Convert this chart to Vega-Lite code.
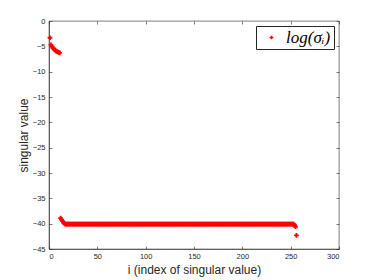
{
  "$schema": "https://vega.github.io/schema/vega-lite/v6.json",
  "width": 290,
  "height": 228,
  "autosize": {"type": "none"},
  "padding": {"left": 49, "top": 21, "right": 35, "bottom": 31},
  "background": "white",
  "config": {
    "view": {"stroke": "#262626", "strokeWidth": 0.6},
    "axis": {
      "grid": false,
      "domainColor": "#262626",
      "domainWidth": 0.6,
      "tickColor": "#262626",
      "tickWidth": 0.6,
      "tickSize": -3,
      "labelColor": "#262626",
      "labelFont": "Liberation Sans",
      "labelFontSize": 7.5,
      "titleFont": "Liberation Sans",
      "titleFontWeight": "normal",
      "titleFontSize": 12,
      "titleColor": "#262626"
    }
  },
  "data": {"values": [
    {"i":1,"v":-3.3},{"i":2,"v":-4.7},{"i":3,"v":-5.0},{"i":4,"v":-5.3},{"i":5,"v":-5.5},{"i":6,"v":-5.7},{"i":7,"v":-5.9},{"i":8,"v":-6.0},{"i":9,"v":-6.1},{"i":10,"v":-6.2},{"i":11,"v":-6.3},
    {"i":12,"v":-38.9},{"i":13,"v":-39.2},{"i":14,"v":-39.5},{"i":15,"v":-39.8},{"i":16,"v":-40.0},
    {"i":17,"v":-40.1},{"i":18,"v":-40.1},{"i":19,"v":-40.1},{"i":20,"v":-40.1},{"i":21,"v":-40.1},{"i":22,"v":-40.1},{"i":23,"v":-40.1},{"i":24,"v":-40.1},{"i":25,"v":-40.1},{"i":26,"v":-40.1},{"i":27,"v":-40.1},{"i":28,"v":-40.1},{"i":29,"v":-40.1},{"i":30,"v":-40.1},
    {"i":31,"v":-40.1},{"i":32,"v":-40.1},{"i":33,"v":-40.1},{"i":34,"v":-40.1},{"i":35,"v":-40.1},{"i":36,"v":-40.1},{"i":37,"v":-40.1},{"i":38,"v":-40.1},{"i":39,"v":-40.1},{"i":40,"v":-40.1},
    {"i":41,"v":-40.1},{"i":42,"v":-40.1},{"i":43,"v":-40.1},{"i":44,"v":-40.1},{"i":45,"v":-40.1},{"i":46,"v":-40.1},{"i":47,"v":-40.1},{"i":48,"v":-40.1},{"i":49,"v":-40.1},{"i":50,"v":-40.1},
    {"i":51,"v":-40.1},{"i":52,"v":-40.1},{"i":53,"v":-40.1},{"i":54,"v":-40.1},{"i":55,"v":-40.1},{"i":56,"v":-40.1},{"i":57,"v":-40.1},{"i":58,"v":-40.1},{"i":59,"v":-40.1},{"i":60,"v":-40.1},
    {"i":61,"v":-40.1},{"i":62,"v":-40.1},{"i":63,"v":-40.1},{"i":64,"v":-40.1},{"i":65,"v":-40.1},{"i":66,"v":-40.1},{"i":67,"v":-40.1},{"i":68,"v":-40.1},{"i":69,"v":-40.1},{"i":70,"v":-40.1},
    {"i":71,"v":-40.1},{"i":72,"v":-40.1},{"i":73,"v":-40.1},{"i":74,"v":-40.1},{"i":75,"v":-40.1},{"i":76,"v":-40.1},{"i":77,"v":-40.1},{"i":78,"v":-40.1},{"i":79,"v":-40.1},{"i":80,"v":-40.1},
    {"i":81,"v":-40.1},{"i":82,"v":-40.1},{"i":83,"v":-40.1},{"i":84,"v":-40.1},{"i":85,"v":-40.1},{"i":86,"v":-40.1},{"i":87,"v":-40.1},{"i":88,"v":-40.1},{"i":89,"v":-40.1},{"i":90,"v":-40.1},
    {"i":91,"v":-40.1},{"i":92,"v":-40.1},{"i":93,"v":-40.1},{"i":94,"v":-40.1},{"i":95,"v":-40.1},{"i":96,"v":-40.1},{"i":97,"v":-40.1},{"i":98,"v":-40.1},{"i":99,"v":-40.1},{"i":100,"v":-40.1},
    {"i":101,"v":-40.1},{"i":102,"v":-40.1},{"i":103,"v":-40.1},{"i":104,"v":-40.1},{"i":105,"v":-40.1},{"i":106,"v":-40.1},{"i":107,"v":-40.1},{"i":108,"v":-40.1},{"i":109,"v":-40.1},{"i":110,"v":-40.1},
    {"i":111,"v":-40.1},{"i":112,"v":-40.1},{"i":113,"v":-40.1},{"i":114,"v":-40.1},{"i":115,"v":-40.1},{"i":116,"v":-40.1},{"i":117,"v":-40.1},{"i":118,"v":-40.1},{"i":119,"v":-40.1},{"i":120,"v":-40.1},
    {"i":121,"v":-40.1},{"i":122,"v":-40.1},{"i":123,"v":-40.1},{"i":124,"v":-40.1},{"i":125,"v":-40.1},{"i":126,"v":-40.1},{"i":127,"v":-40.1},{"i":128,"v":-40.1},{"i":129,"v":-40.1},{"i":130,"v":-40.1},
    {"i":131,"v":-40.1},{"i":132,"v":-40.1},{"i":133,"v":-40.1},{"i":134,"v":-40.1},{"i":135,"v":-40.1},{"i":136,"v":-40.1},{"i":137,"v":-40.1},{"i":138,"v":-40.1},{"i":139,"v":-40.1},{"i":140,"v":-40.1},
    {"i":141,"v":-40.1},{"i":142,"v":-40.1},{"i":143,"v":-40.1},{"i":144,"v":-40.1},{"i":145,"v":-40.1},{"i":146,"v":-40.1},{"i":147,"v":-40.1},{"i":148,"v":-40.1},{"i":149,"v":-40.1},{"i":150,"v":-40.1},
    {"i":151,"v":-40.1},{"i":152,"v":-40.1},{"i":153,"v":-40.1},{"i":154,"v":-40.1},{"i":155,"v":-40.1},{"i":156,"v":-40.1},{"i":157,"v":-40.1},{"i":158,"v":-40.1},{"i":159,"v":-40.1},{"i":160,"v":-40.1},
    {"i":161,"v":-40.1},{"i":162,"v":-40.1},{"i":163,"v":-40.1},{"i":164,"v":-40.1},{"i":165,"v":-40.1},{"i":166,"v":-40.1},{"i":167,"v":-40.1},{"i":168,"v":-40.1},{"i":169,"v":-40.1},{"i":170,"v":-40.1},
    {"i":171,"v":-40.1},{"i":172,"v":-40.1},{"i":173,"v":-40.1},{"i":174,"v":-40.1},{"i":175,"v":-40.1},{"i":176,"v":-40.1},{"i":177,"v":-40.1},{"i":178,"v":-40.1},{"i":179,"v":-40.1},{"i":180,"v":-40.1},
    {"i":181,"v":-40.1},{"i":182,"v":-40.1},{"i":183,"v":-40.1},{"i":184,"v":-40.1},{"i":185,"v":-40.1},{"i":186,"v":-40.1},{"i":187,"v":-40.1},{"i":188,"v":-40.1},{"i":189,"v":-40.1},{"i":190,"v":-40.1},
    {"i":191,"v":-40.1},{"i":192,"v":-40.1},{"i":193,"v":-40.1},{"i":194,"v":-40.1},{"i":195,"v":-40.1},{"i":196,"v":-40.1},{"i":197,"v":-40.1},{"i":198,"v":-40.1},{"i":199,"v":-40.1},{"i":200,"v":-40.1},
    {"i":201,"v":-40.1},{"i":202,"v":-40.1},{"i":203,"v":-40.1},{"i":204,"v":-40.1},{"i":205,"v":-40.1},{"i":206,"v":-40.1},{"i":207,"v":-40.1},{"i":208,"v":-40.1},{"i":209,"v":-40.1},{"i":210,"v":-40.1},
    {"i":211,"v":-40.1},{"i":212,"v":-40.1},{"i":213,"v":-40.1},{"i":214,"v":-40.1},{"i":215,"v":-40.1},{"i":216,"v":-40.1},{"i":217,"v":-40.1},{"i":218,"v":-40.1},{"i":219,"v":-40.1},{"i":220,"v":-40.1},
    {"i":221,"v":-40.1},{"i":222,"v":-40.1},{"i":223,"v":-40.1},{"i":224,"v":-40.1},{"i":225,"v":-40.1},{"i":226,"v":-40.1},{"i":227,"v":-40.1},{"i":228,"v":-40.1},{"i":229,"v":-40.1},{"i":230,"v":-40.1},
    {"i":231,"v":-40.1},{"i":232,"v":-40.1},{"i":233,"v":-40.1},{"i":234,"v":-40.1},{"i":235,"v":-40.1},{"i":236,"v":-40.1},{"i":237,"v":-40.1},{"i":238,"v":-40.1},{"i":239,"v":-40.1},{"i":240,"v":-40.1},
    {"i":241,"v":-40.1},{"i":242,"v":-40.1},{"i":243,"v":-40.1},{"i":244,"v":-40.1},{"i":245,"v":-40.1},{"i":246,"v":-40.1},{"i":247,"v":-40.1},{"i":248,"v":-40.1},{"i":249,"v":-40.1},{"i":250,"v":-40.1},
    {"i":251,"v":-40.1},{"i":252,"v":-40.1},{"i":253,"v":-40.1},{"i":254,"v":-40.3},{"i":255,"v":-40.6},{"i":256,"v":-42.3}
  ]},
  "layer": [
    {
      "mark": {"type": "point", "shape": "cross", "filled": true, "size": 22, "opacity": 1},
      "encoding": {
        "x": {"field": "i", "type": "quantitative", "scale": {"domain": [0, 300], "nice": false}, "title": "i (index of singular value)",
              "axis": {"values": [0, 50, 100, 150, 200, 250, 300], "titlePadding": 5, "labelPadding": 6}},
        "y": {"field": "v", "type": "quantitative", "scale": {"domain": [-45, 0], "nice": false}, "title": "singular value",
              "axis": {"values": [-45, -40, -35, -30, -25, -20, -15, -10, -5, 0], "titlePadding": 2, "labelPadding": 7}},
        "color": {"datum": "log(σᵢ)", "type": "nominal", "scale": {"range": ["#ff0000"]},
                  "legend": {"orient": "top-right", "offset": 5, "title": null, "symbolType": "cross", "symbolSize": 14,
                             "strokeColor": "#262626", "fillColor": "white", "padding": 3, "labelFont": "Liberation Serif",
                             "labelFontStyle": "italic", "labelFontSize": 17, "labelColor": "black", "symbolOffset": 4, "labelOffset": 6}}
      }
    },
    {
      "mark": {"type": "point", "opacity": 0},
      "encoding": {
        "x": {"field": "i", "type": "quantitative", "axis": {"orient": "top", "labels": false, "title": null, "domain": false, "values": [0, 50, 100, 150, 200, 250, 300]}},
        "y": {"field": "v", "type": "quantitative", "axis": {"orient": "right", "labels": false, "title": null, "domain": false, "values": [-45, -40, -35, -30, -25, -20, -15, -10, -5, 0]}}
      }
    }
  ],
  "resolve": {"axis": {"x": "independent", "y": "independent"}}
}
